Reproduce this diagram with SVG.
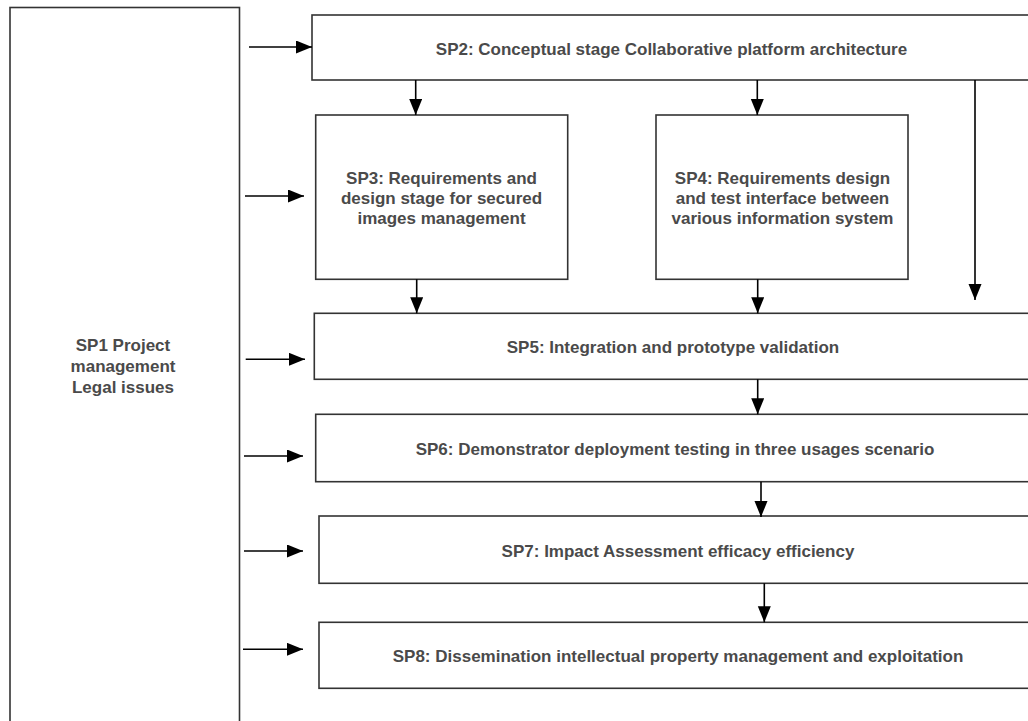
<svg xmlns="http://www.w3.org/2000/svg" width="1028" height="721" viewBox="0 0 1028 721">
<style>
.box{fill:#fff;stroke:#333;stroke-width:1.6}
.t{font-family:"Liberation Sans",Arial,Helvetica,sans-serif;font-weight:bold;font-size:17px;fill:#4a4a4a;text-anchor:middle}
.c{stroke:#000;stroke-width:1.6;fill:none;marker-end:url(#ah)}
</style>
<defs>
<marker id="ah" markerUnits="userSpaceOnUse" markerWidth="18" markerHeight="14" refX="16" refY="6.5" orient="auto">
<path d="M0,0 L16,6.5 L0,13 z" fill="#000"/>
</marker>
</defs>
<rect width="1028" height="721" fill="#fff"/>
<g id="sp1">
<rect class="box" x="10" y="7.5" width="229.5" height="730"/>
<text class="t" x="123" y="350.5">SP1 Project</text>
<text class="t" x="123" y="371.5">management</text>
<text class="t" x="123" y="392.5">Legal issues</text>
</g>
<g id="sp2">
<rect class="box" x="312" y="15" width="725" height="65"/>
<text class="t" x="671.5" y="55">SP2: Conceptual stage Collaborative platform architecture</text>
</g>
<g id="sp3">
<rect class="box" x="315.7" y="115" width="252" height="164.3"/>
<text class="t" x="441.5" y="184">SP3: Requirements and</text>
<text class="t" x="441.5" y="204">design stage for secured</text>
<text class="t" x="441.5" y="224">images management</text>
</g>
<g id="sp4">
<rect class="box" x="656" y="115" width="252" height="164.3"/>
<text class="t" x="782.5" y="184">SP4: Requirements design</text>
<text class="t" x="782.5" y="204">and test interface between</text>
<text class="t" x="782.5" y="224">various information system</text>
</g>
<g id="sp5">
<rect class="box" x="314.3" y="313.3" width="725" height="66"/>
<text class="t" x="673" y="353">SP5: Integration and prototype validation</text>
</g>
<g id="sp6">
<rect class="box" x="315.7" y="414.3" width="725" height="67.4"/>
<text class="t" x="675" y="455">SP6: Demonstrator deployment testing in three usages scenario</text>
</g>
<g id="sp7">
<rect class="box" x="319" y="516" width="725" height="67.3"/>
<text class="t" x="678" y="556.5">SP7: Impact Assessment efficacy efficiency</text>
</g>
<g id="sp8">
<rect class="box" x="319" y="622.3" width="725" height="66"/>
<text class="t" x="678" y="662">SP8: Dissemination intellectual property management and exploitation</text>
</g>
<g id="connectors">
<line class="c" x1="249" y1="47" x2="312" y2="47"/>
<line class="c" x1="245" y1="196" x2="304" y2="196"/>
<line class="c" x1="245.7" y1="359.3" x2="305" y2="359.3"/>
<line class="c" x1="244" y1="456" x2="303" y2="456"/>
<line class="c" x1="244" y1="551" x2="303" y2="551"/>
<line class="c" x1="243" y1="649.3" x2="303" y2="649.3"/>
<line class="c" x1="415.7" y1="80" x2="415.7" y2="115"/>
<line class="c" x1="757.3" y1="80" x2="757.3" y2="115"/>
<line class="c" x1="975" y1="80" x2="975" y2="300"/>
<line class="c" x1="416.7" y1="279.3" x2="416.7" y2="313.3"/>
<line class="c" x1="757.7" y1="279.3" x2="757.7" y2="313.3"/>
<line class="c" x1="757.7" y1="379.3" x2="757.7" y2="414.3"/>
<line class="c" x1="761" y1="481.7" x2="761" y2="517"/>
<line class="c" x1="764.3" y1="583.3" x2="764.3" y2="622.3"/>
</g>
</svg>
